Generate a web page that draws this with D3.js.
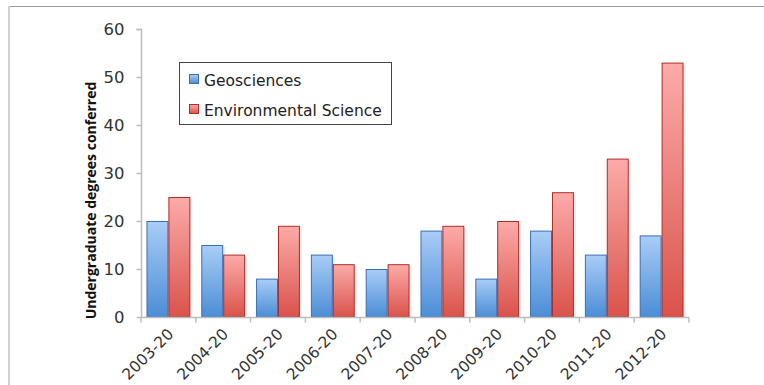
<!DOCTYPE html>
<html>
<head>
<meta charset="utf-8">
<script src="https://cdn.jsdelivr.net/npm/d3@7"></script>
<style>
  html, body { margin: 0; padding: 0; background: #fff; }
  svg { display: block; }
</style>
</head>
<body>
<svg id="chart" width="764" height="385"></svg>
<script>
// Undergraduate degrees conferred per academic year
const categories = ["2003-20", "2004-20", "2005-20", "2006-20", "2007-20",
                    "2008-20", "2009-20", "2010-20", "2011-20", "2012-20"];
const seriesNames = ["Geosciences", "Environmental Science"];
const geosciences = [20, 15, 8, 13, 10, 18, 8, 18, 13, 17];
const environmentalScience = [25, 13, 19, 11, 11, 19, 20, 26, 33, 53];
const yTicks = [0, 10, 20, 30, 40, 50, 60];
const yTitle = "Undergraduate degrees conferred";

const series = [geosciences, environmentalScience];
const fillTop = ["#a9cdf7", "#fcaba9"];
const fillBottom = ["#4b8dd6", "#d9534b"];
const strokes = ["#3a6fb2", "#b02c27"];

const svg = d3.select("#chart");
const W = 764, H = 385;
const plot = { left: 141, right: 689, top: 29, bottom: 317 };

// gradients for the bar fills
const defs = svg.append("defs");
series.forEach((_, i) => {
  const g = defs.append("linearGradient")
    .attr("id", "grad" + i)
    .attr("x1", 0).attr("y1", 0).attr("x2", 0).attr("y2", 1);
  g.append("stop").attr("offset", "0%").attr("stop-color", fillTop[i]);
  g.append("stop").attr("offset", "100%").attr("stop-color", fillBottom[i]);
});

// outer frame (top and left edges)
svg.append("line").attr("x1", 8).attr("x2", W).attr("y1", 6.5).attr("y2", 6.5)
  .attr("stroke", "#9a9a9a").attr("stroke-width", 1);
svg.append("line").attr("x1", 9).attr("x2", 9).attr("y1", 6).attr("y2", H)
  .attr("stroke", "#d0d0d0").attr("stroke-width", 2);

const x0 = d3.scaleBand().domain(categories).range([plot.left, plot.right]).paddingInner(0).paddingOuter(0);
const x1 = d3.scaleBand().domain(d3.range(series.length)).range([0, x0.bandwidth()]).paddingOuter(0.25).paddingInner(0);
const y = d3.scaleLinear().domain([0, 60]).range([plot.bottom, plot.top]);

// bars
const groups = svg.append("g").selectAll("g")
  .data(categories)
  .join("g")
  .attr("transform", d => `translate(${x0(d)},0)`);

groups.selectAll("rect.shadow")
  .data((d, ci) => series.map((s, si) => ({ si, v: s[ci] })))
  .join("rect")
  .attr("class", "shadow")
  .attr("x", d => x1(d.si) + 2)
  .attr("y", d => y(d.v) + 2)
  .attr("width", x1.bandwidth())
  .attr("height", d => y(0) - y(d.v) - 2)
  .attr("fill", "#000").attr("opacity", 0.08);

groups.selectAll("rect.bar")
  .data((d, ci) => series.map((s, si) => ({ si, v: s[ci] })))
  .join("rect")
  .attr("class", "bar")
  .attr("x", d => x1(d.si) + 0.5)
  .attr("y", d => y(d.v) + 0.5)
  .attr("width", x1.bandwidth() - 1)
  .attr("height", d => y(0) - y(d.v) - 0.5)
  .attr("fill", d => `url(#grad${d.si})`)
  .attr("stroke", d => strokes[d.si])
  .attr("stroke-width", 1);

// y axis
const yAxis = svg.append("g")
  .attr("transform", `translate(${plot.left + 0.5},0)`)
  .call(d3.axisLeft(y).tickValues(yTicks).tickSize(5).tickPadding(12));
yAxis.select(".domain").attr("stroke", "#bdbdbd").attr("stroke-width", 1.5)
  .attr("d", `M-5,${y(60) + 0.5}H0V${y(0) + 0.5}`);
yAxis.selectAll(".tick line").attr("stroke", "#bdbdbd").attr("stroke-width", 1.5);
yAxis.selectAll(".tick text")
  .attr("font-family", "DejaVu Sans, Verdana, sans-serif")
  .attr("font-size", 16.5).attr("fill", "#333");

// x axis
const xAxis = svg.append("g")
  .attr("transform", `translate(0,${plot.bottom + 0.5})`)
  .call(d3.axisBottom(x0).tickSize(0).tickFormat(""));
xAxis.select(".domain").attr("stroke", "#bdbdbd").attr("stroke-width", 1.5)
  .attr("d", `M${plot.left},0H${plot.right}`);
const boundaries = d3.range(categories.length + 1).map(i => plot.left + i * x0.step());
xAxis.selectAll("line.sep")
  .data(boundaries)
  .join("line")
  .attr("class", "sep")
  .attr("x1", d => d).attr("x2", d => d)
  .attr("y1", 0).attr("y2", 5)
  .attr("stroke", "#bdbdbd").attr("stroke-width", 1.5);

svg.append("g").selectAll("text")
  .data(categories)
  .join("text")
  .attr("transform", d => `translate(${x0(d) + x0.bandwidth() / 2 + 6},${plot.bottom + 18}) rotate(-45)`)
  .attr("text-anchor", "end")
  .attr("font-family", "DejaVu Sans, Verdana, sans-serif")
  .attr("font-size", 15.5)
  .attr("fill", "#333")
  .text(d => d);

// y axis title
svg.append("text")
  .attr("transform", `translate(96,${(83 + 318) / 2}) rotate(-90)`)
  .attr("text-anchor", "middle")
  .attr("font-family", "Open Sans, Liberation Sans, sans-serif")
  .attr("font-weight", "bold")
  .attr("font-size", 14)
  .attr("fill", "#111")
  .text(yTitle);

// legend
const legend = svg.append("g");
legend.append("rect")
  .attr("x", 179.5).attr("y", 62.5).attr("width", 212).attr("height", 62)
  .attr("fill", "#fff").attr("stroke", "#444").attr("stroke-width", 1);
seriesNames.forEach((name, i) => {
  const ly = 74 + i * 30;
  legend.append("rect")
    .attr("x", 189.5).attr("y", ly + 0.5).attr("width", 9).attr("height", 9)
    .attr("fill", `url(#grad${i})`).attr("stroke", strokes[i]).attr("stroke-width", 1);
  legend.append("text")
    .attr("x", 204).attr("y", ly + 11.5)
    .attr("font-family", "DejaVu Sans, Verdana, sans-serif")
    .attr("font-size", 15.5)
    .attr("fill", "#222")
    .text(name);
});
</script>
</body>
</html>
